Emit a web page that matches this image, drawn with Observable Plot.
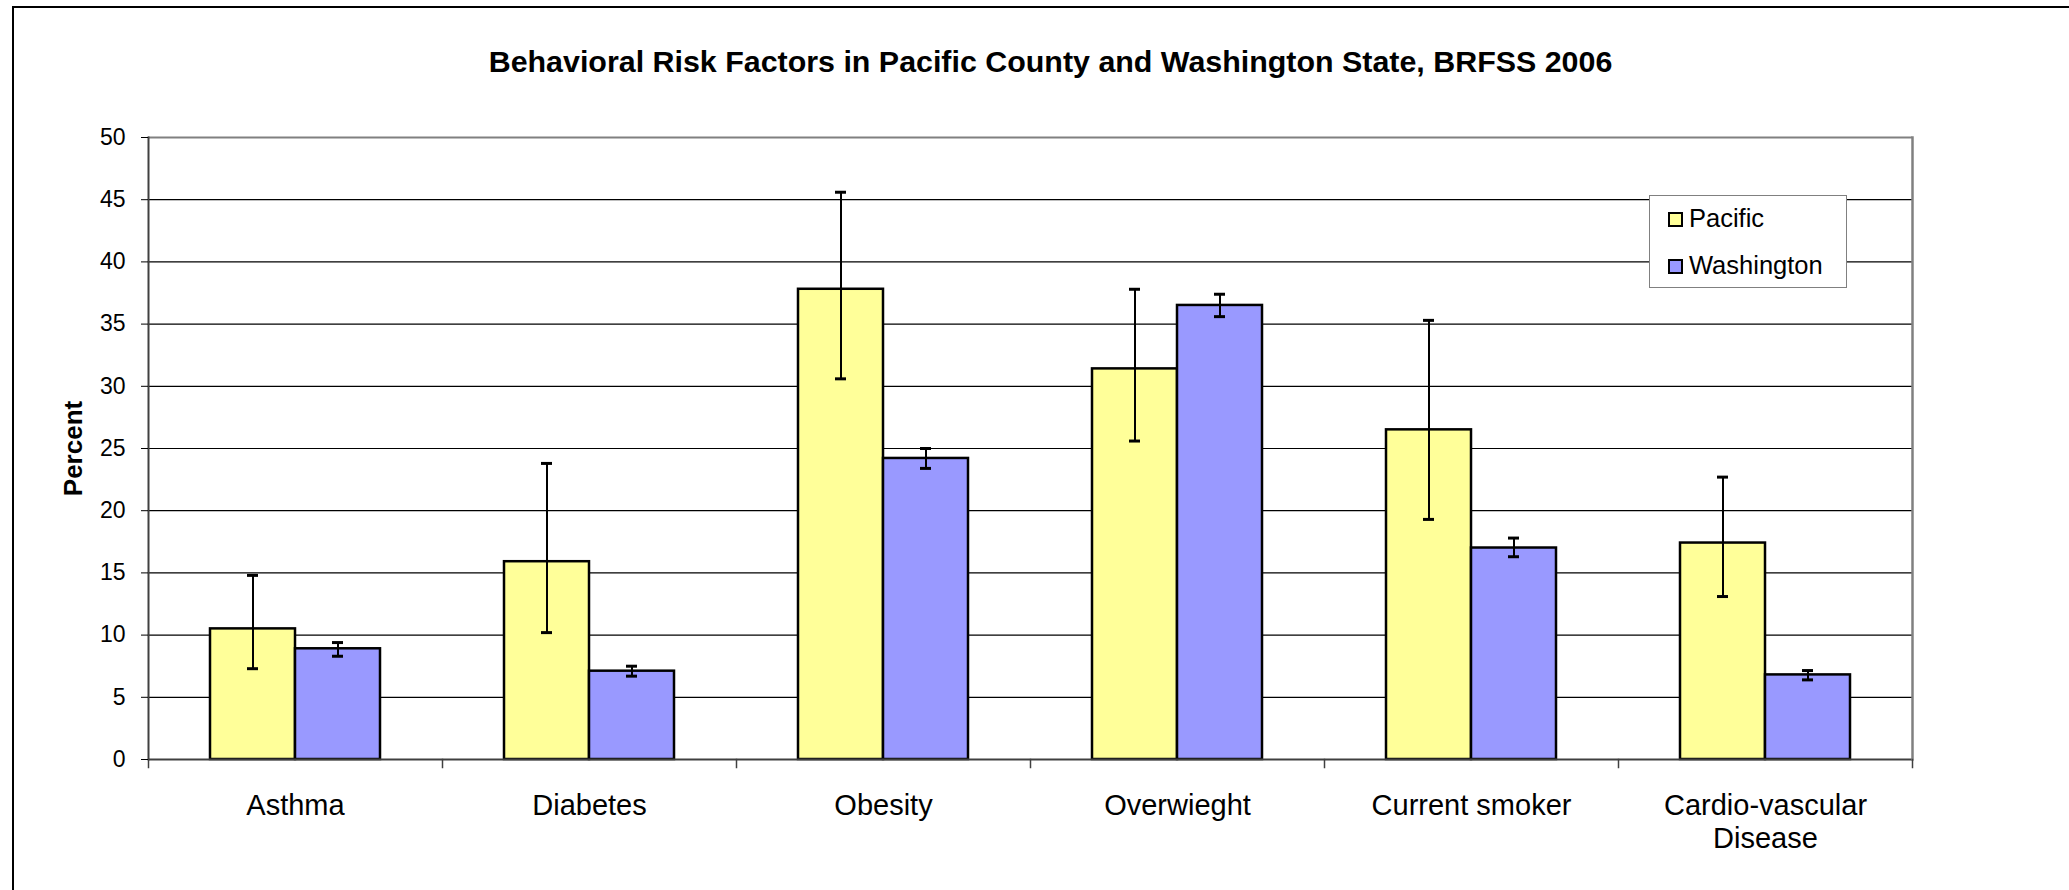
<!DOCTYPE html>
<html>
<head>
<meta charset="utf-8">
<script src="https://cdn.jsdelivr.net/npm/d3@7"></script>
<script src="https://cdn.jsdelivr.net/npm/@observablehq/plot@0.6"></script>
<style>
  html, body { margin: 0; padding: 0; background: #fff; }
  #wrap { position: relative; width: 2069px; height: 890px; overflow: hidden;
          font-family: "Liberation Sans", Arial, sans-serif; color: #000; background: #fff; }
  #border { position: absolute; left: 12px; top: 6px; width: 2200px; height: 1200px;
            border: 2px solid #000; pointer-events: none; }
  #title { box-sizing: border-box; height: 100px; padding-top: 43px; padding-left: 32px;
           text-align: center; font-size: 30.4px; line-height: 36px; font-weight: bold; white-space: nowrap; }
  #legend { position: absolute; left: 1649px; top: 195px; width: 198px; height: 93px; box-sizing: border-box;
            border: 1.5px solid #808080; background: #fff; }
  .lg-sw { position: absolute; left: 18px; width: 15px; height: 15px; box-sizing: border-box; border: 2px solid #000; }
  .lg-tx { position: absolute; left: 39px; font-size: 25.5px; line-height: 30px; white-space: nowrap; }
  svg { display: block; }
  svg text { font-family: "Liberation Sans", Arial, sans-serif; fill: #000; }
  g[aria-label="y-axis label"], g[aria-label="y-axis label"] text { font-weight: bold; font-size: 26px; }
</style>
</head>
<body>
<div id="wrap">
  <div id="border"></div>
  <div id="title"></div>
  <div id="chart"></div>
  <div id="legend"></div>
</div>
<script>
// ---- data ----
const titleText = "Behavioral Risk Factors in Pacific County and Washington State, BRFSS 2006";
const categories = ["Asthma", "Diabetes", "Obesity", "Overwieght", "Current smoker", "Cardio-vascular Disease"];
const categoryLabels = ["Asthma", "Diabetes", "Obesity", "Overwieght", "Current smoker", "Cardio-vascular\nDisease"];
const series = ["Pacific", "Washington"];
const seriesColors = ["#FFFF99", "#9999FF"];
const pacificValues = [10.5, 15.9, 37.8, 31.4, 26.5, 17.4];
const pacificLow    = [7.3, 10.2, 30.6, 25.6, 19.3, 13.1];
const pacificHigh   = [14.8, 23.8, 45.6, 37.8, 35.3, 22.7];
const washingtonValues = [8.9, 7.1, 24.2, 36.5, 17.0, 6.8];
const washingtonLow    = [8.3, 6.7, 23.4, 35.6, 16.3, 6.4];
const washingtonHigh   = [9.4, 7.5, 25.0, 37.4, 17.8, 7.15];
const yTicks = [0, 5, 10, 15, 20, 25, 30, 35, 40, 45, 50];
const yLabel = "Percent";

// ---- table for the library ----
const rows = [];
categories.forEach((c, i) => {
  rows.push({category: c, series: series[0], value: pacificValues[i], low: pacificLow[i], high: pacificHigh[i]});
  rows.push({category: c, series: series[1], value: washingtonValues[i], low: washingtonLow[i], high: washingtonHigh[i]});
});

// ---- layout ----
const W = 2069, H = 790, mTop = 37, mBottom = 131, mLeft = 146, mRight = 155;
const plotH = H - mTop - mBottom;

document.getElementById("title").textContent = titleText;

const chart = Plot.plot({
  width: W, height: H,
  marginTop: mTop, marginBottom: mBottom, marginLeft: mLeft, marginRight: mRight,
  style: {fontFamily: "Liberation Sans, Arial, sans-serif", color: "#000", background: "transparent", overflow: "visible"},
  fx: {domain: categories, padding: 0},
  x: {domain: series, paddingInner: 0, paddingOuter: 0.725, axis: null},
  y: {domain: [0, 50]},
  color: {domain: series, range: seriesColors},
  marks: [
    Plot.ruleY(yTicks.filter(d => d > 0 && d < 50), {stroke: "#000", strokeWidth: 1.2}),
    Plot.ruleY([50], {stroke: "#808080", strokeWidth: 2}),
    Plot.barY(rows, {fx: "category", x: "series", y: "value", fill: "series", stroke: "#000", strokeWidth: 2.5}),
    Plot.ruleX(rows, {fx: "category", x: "series", y1: "low", y2: "high", stroke: "#000", strokeWidth: 2}),
    Plot.tickY(rows, {fx: "category", x: "series", y: "low", insetLeft: 37, insetRight: 37, stroke: "#000", strokeWidth: 3}),
    Plot.tickY(rows, {fx: "category", x: "series", y: "high", insetLeft: 37, insetRight: 37, stroke: "#000", strokeWidth: 3}),
    Plot.ruleY([0], {stroke: "#404040", strokeWidth: 2}),
    Plot.frame({anchor: "left", facetAnchor: "left", stroke: "#404040", strokeWidth: 2}),
    Plot.frame({anchor: "right", facetAnchor: "right", stroke: "#808080", strokeWidth: 2.5}),
    Plot.frame({anchor: "left", insetTop: plotH, insetBottom: -8, stroke: "#404040", strokeWidth: 1.5}),
    Plot.frame({anchor: "right", facetAnchor: "right", insetTop: plotH, insetBottom: -8, stroke: "#404040", strokeWidth: 1.5}),
    Plot.axisY({ticks: yTicks, tickSize: 7, tickPadding: 16, fontSize: 23, tickFormat: d => String(d),
                label: yLabel, labelAnchor: "center", labelOffset: 85, labelArrow: "none"}),
    Plot.axisFx({anchor: "bottom", tickSize: 0, tickPadding: 32, fontSize: 29, lineHeight: 1.14, label: null,
                 tickFormat: d => categoryLabels[categories.indexOf(d)]})
  ]
});
document.getElementById("chart").appendChild(chart);

// ---- legend ----
const legend = document.getElementById("legend");
series.forEach((s, i) => {
  const sw = document.createElement("div");
  sw.className = "lg-sw";
  sw.style.top = (15.5 + 47 * i) + "px";
  sw.style.background = seriesColors[i];
  legend.appendChild(sw);
  const tx = document.createElement("div");
  tx.className = "lg-tx";
  tx.style.top = (7 + 47 * i) + "px";
  tx.textContent = s;
  legend.appendChild(tx);
});
</script>
</body>
</html>
